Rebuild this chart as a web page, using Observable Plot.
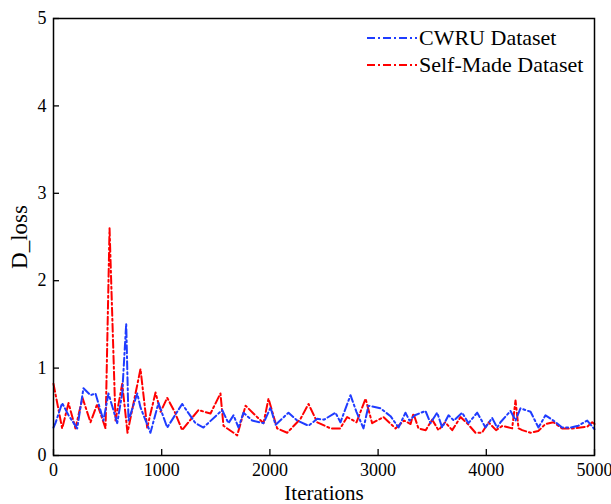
<!DOCTYPE html>
<html>
<head>
<meta charset="utf-8">
<script src="https://cdn.jsdelivr.net/npm/d3@7"></script>
<script src="https://cdn.jsdelivr.net/npm/@observablehq/plot@0.6"></script>
<style>
  html, body { margin: 0; padding: 0; background: #fff; }
  #wrap { position: relative; width: 611px; height: 504px; }
  #wrap svg text { font-family: "Liberation Serif", "Times New Roman", serif !important; }
  #legend { position: absolute; left: 366px; top: 24px; font-family: "Liberation Serif", "Times New Roman", serif; font-size: 22px; color: #000; }
  .row { display: flex; align-items: center; height: 27px; white-space: nowrap; }
  .row svg { margin-right: 1px; }
</style>
</head>
<body>
<div id="wrap"><div id="legend"></div></div>
<script>
const seriesNames = ["CWRU Dataset", "Self-Made Dataset"];
const seriesColors = ["#1f3cff", "#ff0000"];

const cwruIter = [0,18,80,139,219,277,342,388,462,508,589,635,672,693,774,804,896,970,1051,1189,1312,1386,1559,1617,1664,1710,1756,1836,1941,2006,2052,2172,2252,2357,2437,2500,2606,2652,2745,2800,2865,2911,3022,3115,3189,3253,3290,3340,3438,3484,3546,3592,3651,3700,3777,3835,3916,3993,4054,4100,4131,4224,4270,4316,4409,4482,4547,4620,4701,4780,4850,4933,5000];
const cwruLoss = [0.32,0.37,0.6,0.46,0.31,0.77,0.69,0.71,0.4,0.71,0.37,0.71,1.51,0.4,0.71,0.55,0.26,0.6,0.32,0.59,0.37,0.32,0.52,0.37,0.46,0.32,0.49,0.4,0.37,0.55,0.35,0.49,0.4,0.34,0.42,0.41,0.49,0.38,0.69,0.5,0.31,0.57,0.54,0.45,0.32,0.49,0.4,0.46,0.51,0.37,0.49,0.32,0.46,0.4,0.49,0.37,0.49,0.32,0.43,0.32,0.38,0.51,0.4,0.54,0.5,0.32,0.46,0.4,0.32,0.32,0.34,0.4,0.3];

const selfIter = [0,80,139,203,268,342,404,481,518,573,635,684,804,866,943,990,1051,1120,1189,1260,1340,1451,1543,1571,1698,1775,1848,1941,1987,2067,2160,2283,2357,2437,2560,2650,2714,2800,2884,2945,3050,3161,3240,3300,3327,3373,3440,3500,3558,3620,3685,3762,3830,3900,3960,4020,4090,4150,4239,4270,4298,4332,4409,4480,4547,4620,4701,4800,4870,4933,4979,5000];
const selfLoss = [0.82,0.31,0.6,0.31,0.66,0.38,0.59,0.31,2.6,0.4,0.82,0.26,0.99,0.32,0.72,0.5,0.66,0.5,0.29,0.4,0.52,0.48,0.71,0.34,0.23,0.57,0.48,0.37,0.65,0.31,0.26,0.42,0.59,0.38,0.31,0.31,0.44,0.38,0.65,0.37,0.44,0.31,0.4,0.36,0.48,0.31,0.29,0.41,0.29,0.38,0.29,0.44,0.36,0.26,0.26,0.38,0.29,0.34,0.31,0.63,0.31,0.29,0.26,0.28,0.36,0.38,0.31,0.31,0.32,0.33,0.38,0.36];

const xTicks = [0, 1000, 2000, 3000, 4000, 5000];
const yTicks = [0, 1, 2, 3, 4, 5];

const cwru = cwruIter.map((x, i) => ({x, y: cwruLoss[i]}));
const selfm = selfIter.map((x, i) => ({x, y: selfLoss[i]}));

const font = "Liberation Serif";
const dash = "8,3,2,3";

const chart = Plot.plot({
  width: 611,
  height: 504,
  marginLeft: 53,
  marginRight: 17,
  marginTop: 18,
  marginBottom: 49,
  style: { fontFamily: font, background: "#fff", color: "#000" },
  x: { domain: [0, 5000] },
  y: { domain: [0, 5] },
  marks: [
    Plot.axisX({ ticks: xTicks, tickSize: -6, tickPadding: 14, fontSize: 18, fontFamily: font, tickFormat: d => String(d),
      label: "Iterations", labelAnchor: "center", labelOffset: 44, labelArrow: "none", strokeWidth: 1.3 }),
    Plot.axisY({ ticks: yTicks, tickSize: -6, tickPadding: 13, fontSize: 18, fontFamily: font, tickFormat: d => String(d),
      label: "D_loss", labelAnchor: "center", labelOffset: 43, labelArrow: "none", strokeWidth: 1.3 }),
    Plot.line(selfm, { x: "x", y: "y", stroke: seriesColors[1], strokeWidth: 2, strokeDasharray: dash }),
    Plot.line(cwru, { x: "x", y: "y", stroke: seriesColors[0], strokeWidth: 2, strokeDasharray: dash }),
    Plot.frame({ stroke: "#000", strokeWidth: 1.5 })
  ]
});

const svg = d3.select(chart);
svg.selectAll("[aria-label='x-axis label'] text").style("font-size", "21px");
svg.selectAll("[aria-label='y-axis label'] text").style("font-size", "23px");

document.getElementById("wrap").prepend(chart);

const legend = document.getElementById("legend");
seriesNames.forEach((name, i) => {
  const row = document.createElement("div");
  row.className = "row";
  row.innerHTML = `<svg width="52" height="10"><line x1="1" y1="5" x2="51" y2="5" stroke="${seriesColors[i]}" stroke-width="2" stroke-dasharray="${dash}"/></svg><span>${name}</span>`;
  legend.appendChild(row);
});
</script>
</body>
</html>
